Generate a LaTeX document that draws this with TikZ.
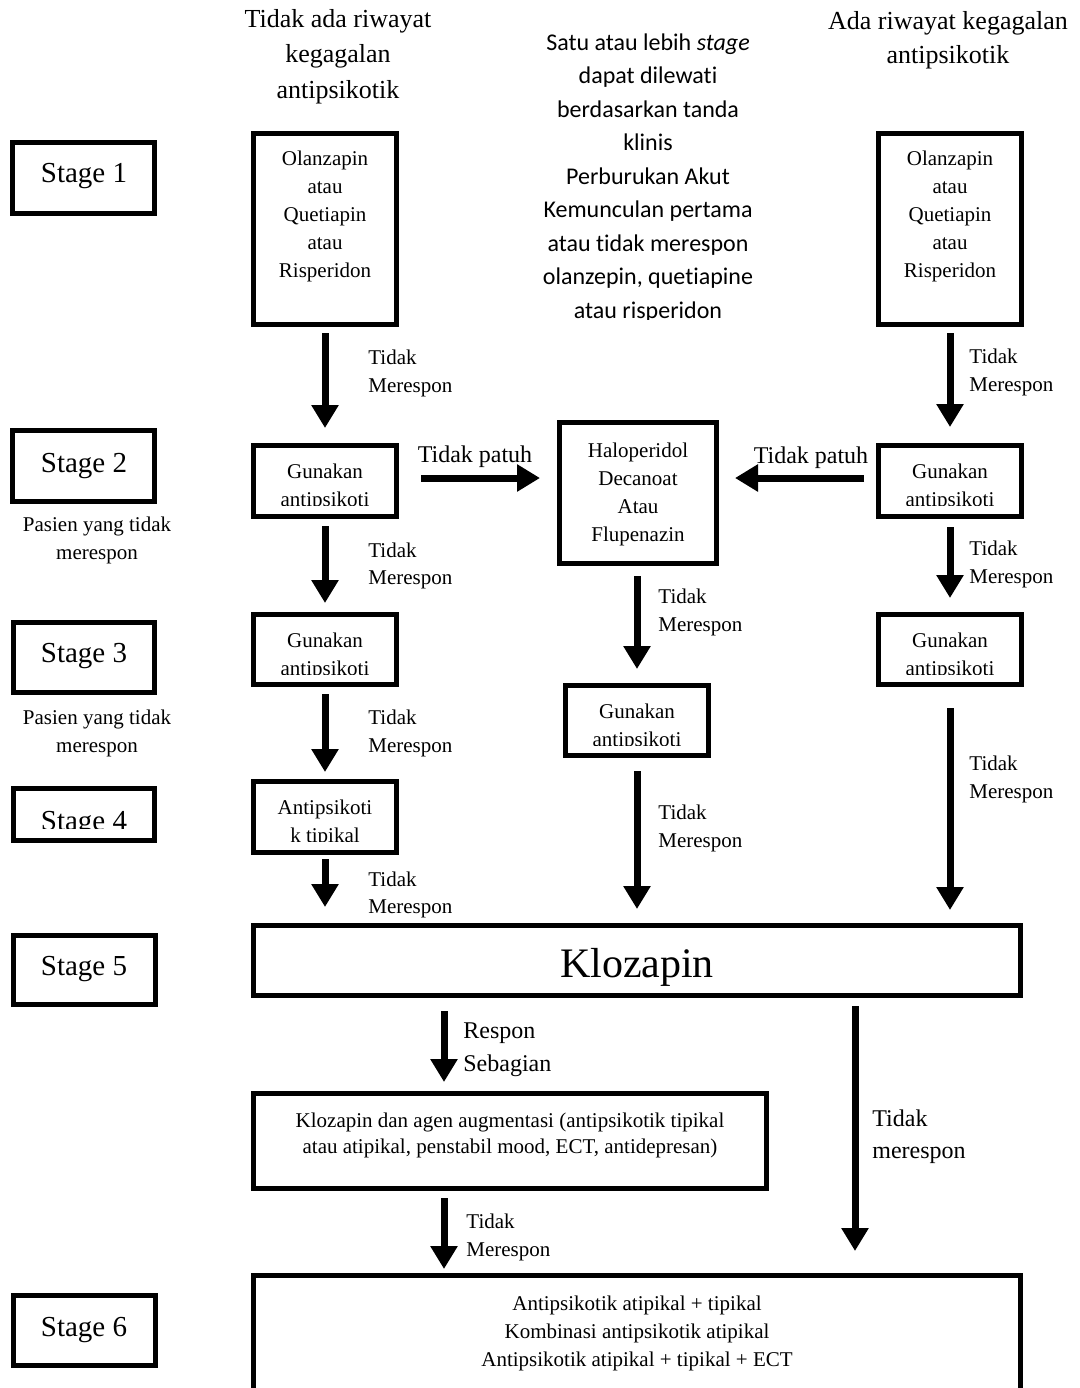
\documentclass[tikz,border=0pt]{standalone}
\usepackage{fontspec}
\setmainfont{Liberation Serif}
\newfontfamily\calibri[Ligatures=NoCommon]{Carlito}
\usetikzlibrary{arrows.meta}

\begin{document}
\begin{tikzpicture}[x=0.5pt, y=-0.5pt,
  box/.style={draw, line width=2.4pt, inner sep=0pt},
  fat/.style={line width=3.5pt, -{Triangle[length=11.5pt, width=13pt]}},
  txt/.style={inner sep=0pt, anchor=base, font=\fontsize{10.5}{14}\selectfont},
  lbl/.style={txt, anchor=base west},
  big/.style={txt, font=\fontsize{12}{16}\selectfont},
  biglbl/.style={lbl, font=\fontsize{12}{16}\selectfont},
  head/.style={txt, font=\fontsize{13}{17}\selectfont},
  stagetxt/.style={txt, font=\fontsize{14.5}{18}\selectfont},
  note/.style={txt, font=\calibri\fontsize{12}{16}\selectfont}]
\newcommand{\boxat}[5]{%
  \node[box, minimum width={(#4-#2-4.8)*0.5pt}, minimum height={(#5-#3-4.8)*0.5pt}]
    (#1) at ({(#2+#4)/2}, {(#3+#5)/2}) {};}
\newcommand{\txtlines}[6]{%
  \foreach \ltxt [count=\i] in {#6}
    \node[#1] (#2\i) at (#3, {#4+#5*(\i-1)}) {\ltxt};}
\newcommand{\cutbox}[7]{%
  \boxat{#1}{#2}{#3}{#4}{#5}
  \node[txt] (#1a) at ({(#2+#4)/2}, {#3+35}) {#6};
  \begin{scope}
    \clip (#2,#3) rectangle (#4,{#3+62});
    \node[txt] (#1b) at ({(#2+#4)/2}, {#3+63}) {#7};
  \end{scope}}

\fill[white] (0,0) rectangle (1080,1388);
\useasboundingbox (0,0) rectangle (1080,1388);
\clip (0,0) rectangle (1080,1388);

% column headings
\txtlines{head}{hL}{338}{27}{35.5}{Tidak ada riwayat,kegagalan,antipsikotik}
\txtlines{head}{hR}{948}{29}{34}{Ada riwayat kegagalan,antipsikotik}

% note in the middle
\txtlines{note}{nt}{648}{50}{33.5}{{Satu atau lebih \textit{stage}},dapat dilewati,berdasarkan tanda,klinis,Perburukan Akut,Kemunculan pertama,atau tidak merespon,{olanzepin, quetiapine}}
\begin{scope}
  \clip (500,290) rectangle (800,319);
  \node[note] (nt9) at (648,318) {atau risperidon};
\end{scope}

% stages
\boxat{S1}{10}{140}{157}{216}
\boxat{S2}{10}{428}{157}{504}
\boxat{S3}{11}{620}{157}{695}
\boxat{S4}{11}{786}{157}{843}
\boxat{S5}{11}{933}{158}{1007}
\boxat{S6}{11}{1293}{158}{1368}
\foreach \s/\b in {1/182,2/472,3/662,5/975,6/1336}
  \node[stagetxt] (St\s) at (84,\b) {Stage \s};
\begin{scope}
  \clip (0,780) rectangle (170,828);
  \node[stagetxt] (St4) at (84,830) {Stage 4};
\end{scope}
\txtlines{txt}{pa}{97}{531}{28}{Pasien yang tidak,merespon}
\txtlines{txt}{pb}{97}{724}{28}{Pasien yang tidak,merespon}

% left column
\boxat{A1}{251}{131}{399}{327}
\txtlines{txt}{A1l}{325}{165}{28}{Olanzapin,atau,Quetiapin,atau,Risperidon}
\cutbox{A2}{251}{443}{399}{519}{Gunakan}{antipsikoti}
\cutbox{A3}{251}{612}{399}{687}{Gunakan}{antipsikoti}
\cutbox{A4}{251}{779}{399}{855}{Antipsikoti}{k tipikal}

% middle column
\boxat{M1}{557}{420}{719}{566}
\txtlines{txt}{M1l}{638}{457}{28}{Haloperidol,Decanoat,Atau,Flupenazin}
\cutbox{M2}{563}{683}{711}{758}{Gunakan}{antipsikoti}

% right column
\boxat{B1}{876}{131}{1024}{327}
\txtlines{txt}{B1l}{950}{165}{28}{Olanzapin,atau,Quetiapin,atau,Risperidon}
\cutbox{B2}{876}{443}{1024}{519}{Gunakan}{antipsikoti}
\cutbox{B3}{876}{612}{1024}{687}{Gunakan}{antipsikoti}

% klozapin and after
\boxat{K}{251}{923}{1023}{998}
\node[txt, font=\fontsize{21}{25}\selectfont] (Kt) at (637,977) {Klozapin};
\boxat{Aug}{251}{1091}{769}{1191}
\txtlines{txt}{Augl}{510}{1127}{26}{{Klozapin dan agen augmentasi (antipsikotik tipikal},{atau atipikal, penstabil mood, ECT, antidepresan)}}
\boxat{Last}{251}{1273}{1023}{1400}
\txtlines{txt}{Lastl}{637}{1310}{28}{Antipsikotik atipikal + tipikal,Kombinasi antipsikotik atipikal,Antipsikotik atipikal + tipikal + ECT}

% arrows
\draw[fat, shorten <=3pt, shorten >=7.5pt] (A1.south) -- (A2.north);
\draw[fat, shorten <=3.5pt, shorten >=4.5pt] (A2.south) -- (A3.north);
\draw[fat, shorten <=3.5pt, shorten >=3.5pt] (A3.south) -- (A4.north);
\draw[fat, shorten <=2pt, shorten >=8pt] (A4.south) -- (A4.south |- K.north);
\draw[fat, shorten <=5pt, shorten >=7pt] (M2.north |- M1.south) -- (M2.north);
\draw[fat, shorten <=6.5pt, shorten >=7pt] (M2.south) -- (M2.south |- K.north);
\draw[fat, shorten <=3pt, shorten >=8pt] (B1.south) -- (B2.north);
\draw[fat, shorten <=4pt, shorten >=7pt] (B2.south) -- (B3.north);
\draw[fat, shorten <=10.5pt, shorten >=6.5pt] (B3.south) -- (B3.south |- K.north);
\coordinate (pL) at ([yshift=1.5pt]A2.east);
\draw[fat, shorten <=11pt, shorten >=8.5pt] (pL) -- (pL -| M1.west);
\coordinate (pR) at ([yshift=1.5pt]B2.west);
\draw[fat, shorten <=6pt, shorten >=8pt] (pR) -- (pR -| M1.east);
\coordinate (kin) at ([xshift=-33pt]Aug.north);
\draw[fat, shorten <=6.5pt, shorten >=4.5pt] (kin |- K.south) -- (kin);
\coordinate (kout) at ([xshift=-33pt]Aug.south);
\draw[fat, shorten <=3.5pt, shorten >=2pt] (kout) -- (kout |- Last.north);
\coordinate (kR) at ([xshift=109pt]K.south);
\draw[fat, shorten <=4pt, shorten >=11pt] (kR) -- (kR |- Last.north);

% labels
\txtlines{lbl}{la}{368}{364}{28}{Tidak,Merespon}
\txtlines{lbl}{lb}{368}{557}{27}{Tidak,Merespon}
\txtlines{lbl}{lc}{368}{724}{28}{Tidak,Merespon}
\txtlines{lbl}{ld}{368}{886}{27}{Tidak,Merespon}
\txtlines{lbl}{le}{658}{603}{28}{Tidak,Merespon}
\txtlines{lbl}{lf}{658}{819}{28}{Tidak,Merespon}
\txtlines{lbl}{lg}{969}{363}{28}{Tidak,Merespon}
\txtlines{lbl}{lh}{969}{555}{28}{Tidak,Merespon}
\txtlines{lbl}{lm}{969}{770}{28}{Tidak,Merespon}
\txtlines{lbl}{lk}{466}{1228}{28}{Tidak,Merespon}
\node[big] (tpL) at (475,462) {Tidak patuh};
\node[big] (tpR) at (811,463) {Tidak patuh};
\txtlines{biglbl}{lj}{463}{1038}{33}{Respon,Sebagian}
\txtlines{biglbl}{ll}{872}{1126}{32}{Tidak,merespon}
\end{tikzpicture}
\end{document}
